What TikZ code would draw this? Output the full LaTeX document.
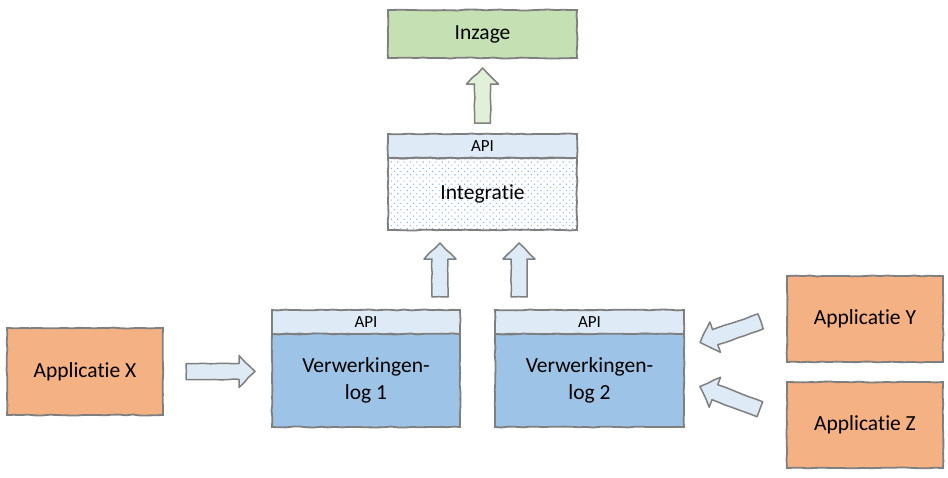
\documentclass[tikz,border=0pt]{standalone}
\usepackage{fontspec}
\setmainfont{Carlito}[Ligatures=NoCommon]
\usepackage{tikz}
\usetikzlibrary{positioning,calc,patterns.meta,decorations.pathmorphing}

\definecolor{rand}{HTML}{7F7F7F}
\definecolor{groen}{HTML}{C5E0B3}
\definecolor{lichtgroen}{HTML}{E2EFD9}
\definecolor{lichtblauw}{HTML}{DEEBF7}
\definecolor{blauw}{HTML}{9DC3E6}
\definecolor{stip}{HTML}{8DB4E2}
\definecolor{oranje}{HTML}{F4B183}

\begin{document}
\begin{tikzpicture}[x=1pt,y=-1pt,
    schets/.style={decorate,decoration={random steps,segment length=7pt,amplitude=0.5pt}},
    blok/.style={schets,draw=rand,line width=1.8pt,inner sep=0pt,outer sep=0pt,
      font=\fontsize{21.5}{27}\selectfont,align=center},
    apiband/.style={blok,fill=lichtblauw,minimum height=24pt,font=\fontsize{17}{20}\selectfont},
    applicatie/.style={blok,fill=oranje,minimum width=156pt},
    fat/.style 2 args={to path={
      let \p1=(\tikztostart), \p2=(\tikztotarget),
          \n1={atan2(\y2-\y1,\x2-\x1)}, \n2={veclen(\x2-\x1,\y2-\y1)} in
      [shift={(\p1)},rotate=\n1]
      ({#1*1pt},-8pt) -- ({(\n2-#2-16)*1pt},-8pt) -- ({(\n2-#2-16)*1pt},-16pt)
      -- ({(\n2-#2)*1pt},0pt) -- ({(\n2-#2-16)*1pt},16pt) -- ({(\n2-#2-16)*1pt},8pt)
      -- ({#1*1pt},8pt) -- cycle}},
    pijl/.style={schets,draw=rand,line width=1.5pt,fill=lichtblauw,line join=round}]
  \useasboundingbox (0,0) rectangle (948,477);

  % inzage
  \node[blok,fill=groen,minimum width=189pt,minimum height=48pt] (inzage) at (482.5,34) {Inzage};

  % integratie met api
  \node[apiband,minimum width=189pt] (integapi) at (482.5,146) {API};
  \node[blok,minimum width=189pt,minimum height=72pt,below=0pt of integapi,
    pattern={Dots[distance=4.5pt,radius=0.8pt,angle=45]},pattern color=stip] (integ) {};
  \node[font=\fontsize{21.5}{27}\selectfont] (integtekst) at (integ) {Integratie};

  % verwerkingenlogs
  \node[apiband,minimum width=188pt] (vl1api) at (366,322) {API};
  \node[blok,fill=blauw,minimum width=188pt,minimum height=93pt,below=0pt of vl1api] (vl1) {Verwerkingen-\\log 1};
  \node[apiband,minimum width=189pt] (vl2api) at (589.5,322) {API};
  \node[blok,fill=blauw,minimum width=189pt,minimum height=93pt,below=0pt of vl2api] (vl2) {Verwerkingen-\\log 2};

  % applicaties
  \node[applicatie,minimum height=87pt] (appx) at (85,371.5) {Applicatie X};
  \node[applicatie,minimum height=86pt] (appy) at (865,319) {Applicatie Y};
  \node[applicatie,minimum height=86pt] (appz) at (865,425) {Applicatie Z};

  % pijlen
  \draw[pijl,fill=lichtgroen] (integapi.north) to[fat={11}{10}] (inzage.south);
  \draw[pijl] ($(vl1api.north east)+(-20,0)$) to[fat={13}{13}] ($(integ.south west)+(52,0)$);
  \draw[pijl] ($(vl2api.north west)+(24,0)$) to[fat={13}{13}] ($(integ.south west)+(131,0)$);
  \draw[pijl] (appx.east) to[fat={23}{17}] (appx.east -| vl1.west);
  \draw[pijl] (appy.175) to[fat={28}{17}] (vl2.19);
  \draw[pijl] (appz.176) to[fat={29}{17}] (vl2.east);
\end{tikzpicture}
\end{document}
